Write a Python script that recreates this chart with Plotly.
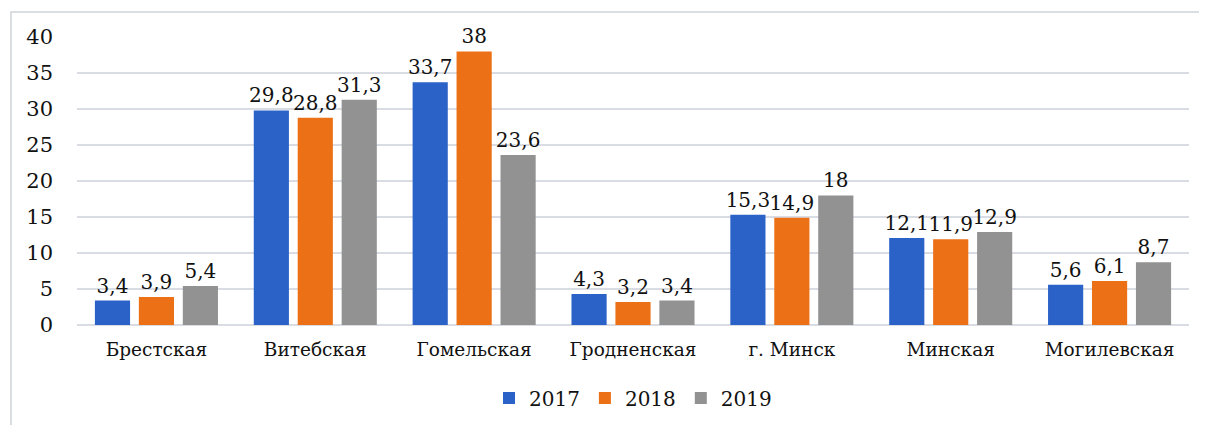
import plotly.graph_objects as go

categories = ["Брестская", "Витебская", "Гомельская", "Гродненская", "г. Минск", "Минская", "Могилевская"]
years = ["2017", "2018", "2019"]
v2017 = [3.4, 29.8, 33.7, 4.3, 15.3, 12.1, 5.6]
v2018 = [3.9, 28.8, 38, 3.2, 14.9, 11.9, 6.1]
v2019 = [5.4, 31.3, 23.6, 3.4, 18, 12.9, 8.7]
y_ticks = [0, 5, 10, 15, 20, 25, 30, 35, 40]

series = [v2017, v2018, v2019]
colors = ["#2b62c8", "#ec7016", "#929292"]
FONT = "DejaVu Serif"

def fmt(v):
    return f"{v:g}".replace(".", ",")

fig = go.Figure()
for name, vals, col in zip(years, series, colors):
    fig.add_trace(go.Bar(
        x=categories, y=vals, name=name,
        marker=dict(color=col, line=dict(width=0)),
        text=[fmt(v) for v in vals], textposition="outside",
        constraintext="none",
        textfont=dict(family=FONT, size=20, color="#111111"),
        cliponaxis=False,
    ))

OFF = 8  # page body margin
L, R, T, B = 77 - OFF, 18, 37 - OFF, 100
W, H = 1207 - OFF, 425 - OFF
pw, ph = W - L - R, H - T - B
y0px = 325 - OFF  # pixel of y=0 inside figure

fig.update_layout(
    width=W, height=H,
    margin=dict(l=L, r=R, t=T, b=B, autoexpand=False),
    paper_bgcolor="white", plot_bgcolor="white",
    barmode="group", bargap=0.17, bargroupgap=0.2,
    font=dict(family=FONT, size=20, color="#111111"),
    showlegend=True,
    legend=dict(orientation="h", x=0.5, xanchor="center",
                y=(y0px - (398 - OFF)) / ph, yanchor="middle",
                font=dict(family=FONT, size=20, color="#111111"),
                itemwidth=30, traceorder="normal"),
    xaxis=dict(showgrid=False, showline=False, ticks="", automargin=False,
               tickfont=dict(family=FONT, size=18.5, color="#111111"),
               ticklabelstandoff=11),
    yaxis=dict(range=[0, 40], tickvals=y_ticks, showgrid=True, automargin=False,
               gridcolor="#d9dde3", gridwidth=1.5, zeroline=True,
               zerolinecolor="#d9dde3", zerolinewidth=1.5, showline=False,
               tickfont=dict(family=FONT, size=21, color="#111111"),
               ticklabelstandoff=23),
    shapes=[dict(type="rect", xref="paper", yref="paper",
                 x0=(11 - 77) / pw, x1=(1210 - 77) / pw,
                 y0=(325 - 440) / ph, y1=(325 - 12) / ph,
                 line=dict(color="#d0d3d8", width=1.5), fillcolor="rgba(0,0,0,0)",
                 layer="below")],
)

fig.write_html("out.html")
